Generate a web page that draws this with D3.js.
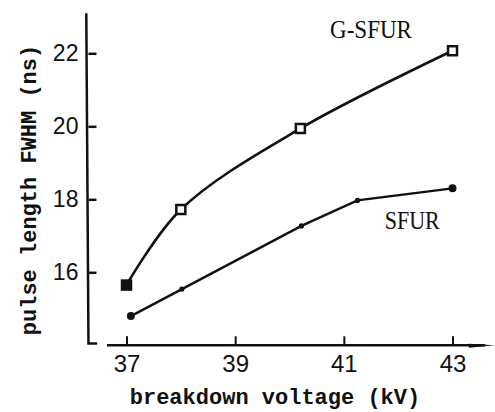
<!DOCTYPE html>
<html>
<head>
<meta charset="utf-8">
<script src="https://cdn.jsdelivr.net/npm/d3@7"></script>
<style>
  body { margin: 0; background: #fff; }
</style>
</head>
<body>
<div id="my_dataviz"></div>
<script>
// data
var gsfurVoltage = [37, 38, 40.2, 43];
var gsfurWidth   = [15.65, 17.72, 19.94, 22.07];
var sfurVoltage  = [37.08, 38.02, 40.22, 41.25, 43];
var sfurWidth    = [14.8, 15.54, 17.27, 17.97, 18.3];
var xTicks = [37, 39, 41, 43];
var yTicks = [16, 18, 20, 22];

// the svg object fills the whole page
var width = 495, height = 412;
var svg = d3.select("#my_dataviz")
  .append("svg")
    .attr("width", width)
    .attr("height", height);

var x = d3.scaleLinear().domain([37, 43]).range([126.5, 452.5]);
var y = d3.scaleLinear().domain([16, 22]).range([272.3, 53.3]);

var ink = "#111";

// Y axis: ticks point into the plot, labels on the left
var yAxis = svg.append("g")
  .attr("transform", "translate(" + x(36.3) + ",0)")
  .call(d3.axisLeft(y).tickValues(yTicks).tickFormat(d3.format("d"))
    .tickSizeInner(-8).tickSizeOuter(0).tickPadding(10));
yAxis.select(".domain").remove();
yAxis.selectAll(".tick line").attr("stroke", ink).attr("stroke-width", 2.5);
yAxis.selectAll(".tick text")
  .attr("fill", ink)
  .style("font-family", "'Liberation Sans', Arial, sans-serif")
  .style("font-size", "23px");

// Y axis line, a bit longer than the ticks, with a small foot at the bottom
svg.append("path")
  .attr("d", d3.line()([[x(36.26), y(23.1)], [x(36.3), y(14.05)], [x(36.46), y(14.05)]]))
  .attr("fill", "none")
  .attr("stroke", ink)
  .attr("stroke-width", 2.5);

// X axis: ticks point up
var xAxis = svg.append("g")
  .attr("transform", "translate(0," + y(14.0) + ")")
  .call(d3.axisBottom(x).tickValues(xTicks).tickFormat(d3.format("d"))
    .tickSizeInner(-9).tickSizeOuter(0).tickPadding(10));
xAxis.select(".domain").remove();
xAxis.selectAll(".tick line").attr("stroke", ink).attr("stroke-width", 2);
xAxis.selectAll(".tick text")
  .attr("fill", ink)
  .style("font-family", "'Liberation Sans', Arial, sans-serif")
  .style("font-size", "24px");

// X axis line with an arrow head at the right end
svg.append("line")
  .attr("x1", x(36.64)).attr("x2", x(43.6))
  .attr("y1", y(14.0)).attr("y2", y(14.0))
  .attr("stroke", ink)
  .attr("stroke-width", 2.5);
svg.append("path")
  .attr("d", d3.line()([[x(43.3), y(14.0) - 1.5], [x(43.78), y(14.0)], [x(43.3), y(14.0) + 2.5]]) + "Z")
  .attr("fill", ink);

// axis titles
svg.append("text")
  .attr("x", 275)
  .attr("y", 404)
  .attr("text-anchor", "middle")
  .attr("fill", ink)
  .style("font-family", "'Liberation Mono', 'Courier New', monospace")
  .style("font-weight", "bold")
  .style("font-size", "22px")
  .text("breakdown voltage (kV)");

svg.append("text")
  .attr("transform", "translate(36,190) rotate(-90)")
  .attr("text-anchor", "middle")
  .attr("fill", ink)
  .style("font-family", "'Liberation Mono', 'Courier New', monospace")
  .style("font-weight", "bold")
  .style("font-size", "22px")
  .text("pulse length FWHM (ns)");

// G-SFUR: smooth curve through the squares
var gsfur = gsfurVoltage.map(function(v, i) { return [v, gsfurWidth[i]]; });
var sfur = sfurVoltage.map(function(v, i) { return [v, sfurWidth[i]]; });

svg.append("path")
  .datum(gsfur)
  .attr("fill", "none")
  .attr("stroke", ink)
  .attr("stroke-width", 2.6)
  .attr("d", d3.line()
    .curve(d3.curveCatmullRom.alpha(0.5))
    .x(function(d) { return x(d[0]); })
    .y(function(d) { return y(d[1]); }));

svg.selectAll(".sq")
  .data(gsfur)
  .enter()
  .append("rect")
    .attr("class", "sq")
    .attr("x", function(d) { return x(d[0]) - 4.5; })
    .attr("y", function(d) { return y(d[1]) - 4.5; })
    .attr("width", 9)
    .attr("height", 9)
    .attr("fill", function(d, i) { return i === 0 ? ink : "#fff"; })
    .attr("stroke", ink)
    .attr("stroke-width", 2.5);

// SFUR: straight segments through the dots
svg.append("path")
  .datum(sfur)
  .attr("fill", "none")
  .attr("stroke", ink)
  .attr("stroke-width", 2.4)
  .attr("d", d3.line()
    .x(function(d) { return x(d[0]); })
    .y(function(d) { return y(d[1]); }));

svg.selectAll(".dot")
  .data(sfur)
  .enter()
  .append("circle")
    .attr("class", "dot")
    .attr("cx", function(d) { return x(d[0]); })
    .attr("cy", function(d) { return y(d[1]); })
    .attr("r", function(d, i) { return (i === 0 || i === sfur.length - 1) ? 4 : 2.6; })
    .attr("fill", ink);

// series labels
svg.append("text")
  .attr("x", x(41.5))
  .attr("y", y(22.42))
  .attr("text-anchor", "middle")
  .attr("textLength", 82)
  .attr("lengthAdjust", "spacingAndGlyphs")
  .attr("fill", ink)
  .style("font-family", "'Liberation Serif', 'Times New Roman', serif")
  .style("font-size", "25px")
  .text("G-SFUR");

svg.append("text")
  .attr("x", x(42.26))
  .attr("y", y(17.19))
  .attr("text-anchor", "middle")
  .attr("textLength", 55)
  .attr("lengthAdjust", "spacingAndGlyphs")
  .attr("fill", ink)
  .style("font-family", "'Liberation Serif', 'Times New Roman', serif")
  .style("font-size", "25px")
  .text("SFUR");
</script>
</body>
</html>
